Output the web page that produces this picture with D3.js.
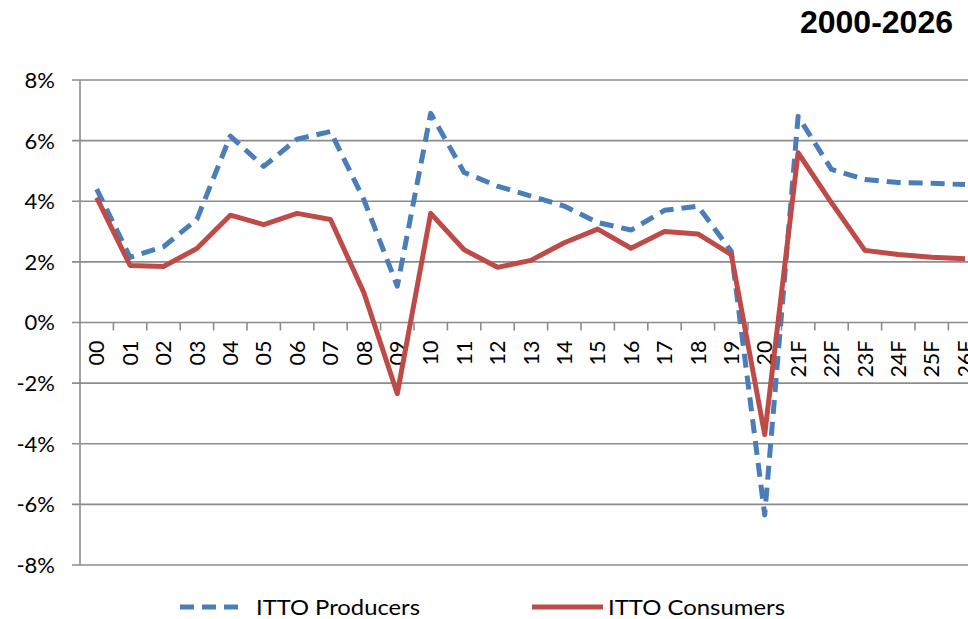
<!DOCTYPE html>
<html>
<head>
<meta charset="utf-8">
<script src="https://cdn.jsdelivr.net/npm/d3@7"></script>
<style>
  html, body { margin: 0; padding: 0; background: #fff; }
  svg { display: block; }
</style>
</head>
<body>
<div id="chart"></div>
<script>
// Growth of ITTO producers vs consumers, 2000-2026 (F = forecast)
var years = ['00', '01', '02', '03', '04', '05', '06', '07', '08', '09',
  '10', '11', '12', '13', '14', '15', '16', '17', '18', '19',
  '20', '21F', '22F', '23F', '24F', '25F', '26F'];
var producers = [4.4, 2.15, 2.5, 3.4, 6.15, 5.15, 6.05, 6.3, 4.05, 1.2,
  6.9, 4.95, 4.5, 4.17, 3.84, 3.3, 3.05, 3.7, 3.84, 2.35,
  -6.35, 6.8, 5.05, 4.72, 4.62, 4.59, 4.55];
var consumers = [4.12, 1.88, 1.85, 2.44, 3.54, 3.23, 3.6, 3.4, 0.98, -2.35,
  3.6, 2.4, 1.82, 2.05, 2.63, 3.08, 2.45, 3.0, 2.92, 2.24,
  -3.7, 5.6, 3.95, 2.38, 2.24, 2.15, 2.1];
var yTicks = [8, 6, 4, 2, 0, -2, -4, -6, -8];

var W = 968, H = 619;
var FONT = 'Lato, "Open Sans", sans-serif';
var GRID = '#8c8c8c';
var BLUE = '#4a7ebb';
var RED = '#be4b48';

var svg = d3.select('#chart').append('svg')
  .attr('width', W).attr('height', H)
  .style('overflow', 'hidden');

// the plot runs past the right edge of the picture (cropped at 26F)
var x = d3.scaleBand().domain(years).range([80, 80 + 27 * 33.4]);
var y = d3.scaleLinear().domain([-8, 8]).range([565, 80]);

// horizontal gridlines + left ticks
svg.append('g').selectAll('line').data(yTicks).join('line')
  .attr('x1', 72).attr('x2', W)
  .attr('y1', function (d) { return y(d); })
  .attr('y2', function (d) { return y(d); })
  .attr('stroke', GRID).attr('stroke-width', 1.6);

svg.append('g').selectAll('text').data(yTicks).join('text')
  .attr('x', 55)
  .attr('y', function (d) { return y(d); })
  .attr('dy', '0.36em')
  .attr('text-anchor', 'end')
  .attr('font-family', FONT).attr('font-size', 22)
  .attr('fill', '#000')
  .text(function (d) { return d + '%'; });

// vertical axis line
svg.append('line')
  .attr('x1', 80).attr('x2', 80)
  .attr('y1', y(8)).attr('y2', y(-8))
  .attr('stroke', GRID).attr('stroke-width', 1.6);

// category tick marks on the zero line
var zeroY = y(0);
svg.append('g').selectAll('line').data(years.slice(1)).join('line')
  .attr('x1', function (d) { return x(d); })
  .attr('x2', function (d) { return x(d); })
  .attr('y1', zeroY).attr('y2', zeroY + 8)
  .attr('stroke', GRID).attr('stroke-width', 1.6);

// rotated category labels
svg.append('g').selectAll('text').data(years).join('text')
  .attr('transform', function (d) {
    return 'translate(' + (x(d) + x.bandwidth() / 2) + ',' + (zeroY + 18) + ') rotate(-90)';
  })
  .attr('dy', '0.36em')
  .attr('text-anchor', 'end')
  .attr('font-family', FONT).attr('font-size', 21.5)
  .attr('fill', '#000')
  .text(function (d) { return d; });

var line = d3.line()
  .x(function (d, i) { return x(years[i]) + x.bandwidth() / 2; })
  .y(function (d) { return y(d); });

svg.append('path')
  .datum(producers)
  .attr('d', line)
  .attr('fill', 'none')
  .attr('stroke', BLUE).attr('stroke-width', 5)
  .attr('stroke-dasharray', '14,8')
  .attr('stroke-linejoin', 'round');

svg.append('path')
  .datum(consumers)
  .attr('d', line)
  .attr('fill', 'none')
  .attr('stroke', RED).attr('stroke-width', 5)
  .attr('stroke-linejoin', 'round');

// title (right side, partly what's visible of the original header)
svg.append('text')
  .attr('x', 953).attr('y', 33)
  .attr('text-anchor', 'end')
  .attr('font-family', '"Liberation Sans", Arial, sans-serif')
  .attr('font-weight', 'bold').attr('font-size', 32)
  .attr('fill', '#000')
  .text('2000-2026');

// legend
var legend = [
  { name: 'ITTO Producers', color: BLUE, dash: '14,8', x1: 180, x2: 246, tx: 256, tw: 164 },
  { name: 'ITTO Consumers', color: RED, dash: null, x1: 532, x2: 603, tx: 608, tw: 177 }
];
var lg = svg.append('g');
legend.forEach(function (l) {
  lg.append('line')
    .attr('x1', l.x1).attr('x2', l.x2)
    .attr('y1', 607).attr('y2', 607)
    .attr('stroke', l.color).attr('stroke-width', 5)
    .attr('stroke-dasharray', l.dash);
  lg.append('text')
    .attr('x', l.tx).attr('y', 607)
    .attr('dy', '0.36em')
    .attr('font-family', FONT).attr('font-size', 22)
    .attr('textLength', l.tw).attr('lengthAdjust', 'spacingAndGlyphs')
    .attr('fill', '#000')
    .text(l.name);
});
</script>
</body>
</html>
